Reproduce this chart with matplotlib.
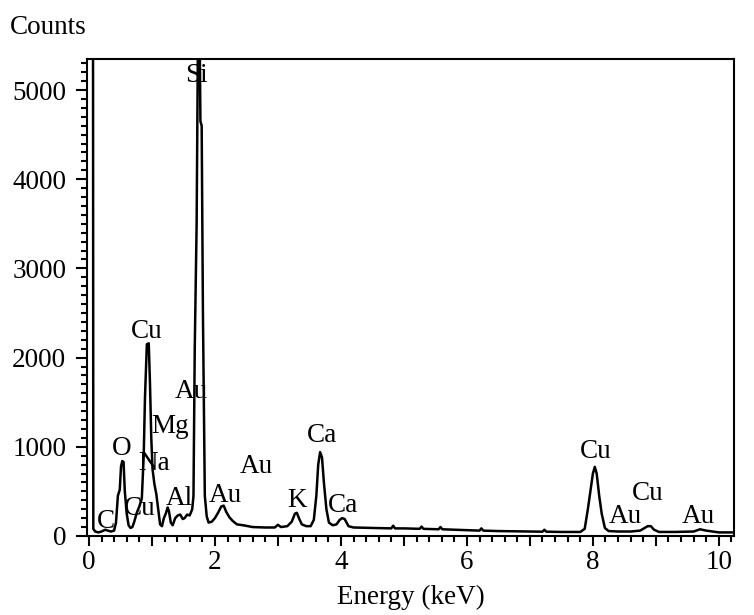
import matplotlib
matplotlib.use("Agg")
import matplotlib.pyplot as plt
from matplotlib.ticker import MultipleLocator, FuncFormatter

# --- spectre EDS (énergie en keV, coups) ---
energy_kev = [0.00, 0.065, 0.07, 0.10, 0.15, 0.20, 0.26, 0.30, 0.35, 0.40,
              0.43, 0.46, 0.49, 0.51, 0.53, 0.55, 0.57, 0.60, 0.63, 0.66,
              0.69, 0.72, 0.76, 0.80, 0.84, 0.87, 0.89, 0.92, 0.95, 0.97,
              0.99, 1.01, 1.04, 1.07, 1.10, 1.13, 1.16, 1.19, 1.22, 1.25,
              1.27, 1.30, 1.33, 1.37, 1.41, 1.45, 1.49, 1.52, 1.56, 1.60,
              1.64, 1.66, 1.68, 1.71, 1.73, 1.76, 1.77, 1.79, 1.81, 1.84,
              1.87, 1.90, 1.95, 2.00, 2.05, 2.10, 2.14, 2.18, 2.23, 2.28,
              2.35, 2.45, 2.60, 2.80, 2.95, 3.00, 3.05, 3.15, 3.22, 3.27,
              3.30, 3.34, 3.38, 3.45, 3.52, 3.57, 3.61, 3.64, 3.67, 3.70,
              3.73, 3.77, 3.81, 3.87, 3.93, 3.98, 4.02, 4.06, 4.12, 4.20,
              4.50, 4.80, 4.83, 4.86, 5.00, 5.25, 5.28, 5.31, 5.55, 5.58,
              5.61, 6.00, 6.20, 6.23, 6.26, 6.50, 7.00, 7.20, 7.23, 7.26,
              7.50, 7.80, 7.87, 7.92, 7.96, 8.00, 8.03, 8.06, 8.10, 8.14,
              8.19, 8.25, 8.40, 8.60, 8.75, 8.82, 8.87, 8.92, 8.97, 9.05,
              9.30, 9.60, 9.70, 9.80, 10.00, 10.25]
counts = [6000, 6000, 80, 50, 40, 50, 70, 60, 50, 60,
          150, 450, 520, 780, 840, 830, 500, 250, 120, 90,
          100, 160, 260, 330, 420, 900, 1550, 2150, 2160, 1700,
          1100, 750, 580, 470, 300, 130, 110, 200, 250, 320,
          280, 150, 120, 200, 230, 240, 190, 200, 240, 230,
          300, 450, 2100, 3500, 5500, 5500, 4650, 4600, 2500, 450,
          220, 150, 160, 200, 260, 330, 340, 270, 210, 170,
          130, 120, 100, 95, 95, 125, 100, 110, 160, 250,
          260, 190, 130, 110, 110, 180, 450, 800, 940, 880,
          600, 300, 150, 120, 130, 180, 200, 190, 110, 95,
          90, 85, 115, 85, 85, 80, 105, 80, 75, 100,
          75, 65, 60, 85, 60, 55, 50, 48, 70, 48,
          45, 45, 80, 300, 500, 700, 775, 700, 450, 250,
          90, 55, 50, 50, 60, 90, 110, 110, 70, 45,
          45, 50, 75, 60, 40, 40]

# --- étiquettes des éléments (position de la ligne de base du texte) ---
peak_labels = ["Si", "Cu", "Au", "Mg", "Na", "O", "Cu", "C", "Al", "Au",
               "Au", "K", "Ca", "Ca", "Cu", "Au", "Cu", "Au"]
label_energy = [1.70, 0.92, 1.62, 1.29, 1.03, 0.52, 0.81, 0.27, 1.44, 2.17,
                2.65, 3.30, 3.70, 4.03, 8.05, 8.51, 8.87, 9.68]
label_counts = [5090, 2220, 1547, 1155, 740, 908, 235, 90, 348, 381,
                706, 325, 1054, 269, 874, 146, 404, 146]

plt.rcParams["font.family"] = ["Liberation Serif", "DejaVu Serif"]
fs = 19.5

fig = plt.figure(figsize=(7.54, 6.15), dpi=100)
ax = fig.add_axes([0.1154, 0.1285, 0.8581, 0.7756])

ax.plot(energy_kev, counts, color="black", lw=1.8)

for lab, e, c in zip(peak_labels, label_energy, label_counts):
    ax.text(e, c, lab, ha="center", va="baseline", fontsize=fs)

ax.set_xlim(-0.03, 10.24)
ax.set_ylim(0, 5348)

ax.xaxis.set_major_locator(MultipleLocator(1))
ax.xaxis.set_minor_locator(MultipleLocator(0.2))
ax.xaxis.set_major_formatter(FuncFormatter(lambda v, p: f"{int(round(v))}" if round(v) % 2 == 0 else ""))
ax.yaxis.set_major_locator(MultipleLocator(1000))
ax.yaxis.set_minor_locator(MultipleLocator(100))

ax.tick_params(which="major", direction="out", length=7, width=1.5, labelsize=fs)
ax.tick_params(which="minor", direction="out", length=4, width=1.5)
ax.tick_params(axis="x", which="major", pad=3)
ax.tick_params(axis="y", which="major", length=8, pad=7)

for s in ax.spines.values():
    s.set_linewidth(1.5)

ax.set_xlabel("Energy (keV)", fontsize=fs, labelpad=7)
fig.text(0.013, 0.975, "Counts", fontsize=fs, ha="left", va="top")

fig.savefig("out.png", dpi=100)
